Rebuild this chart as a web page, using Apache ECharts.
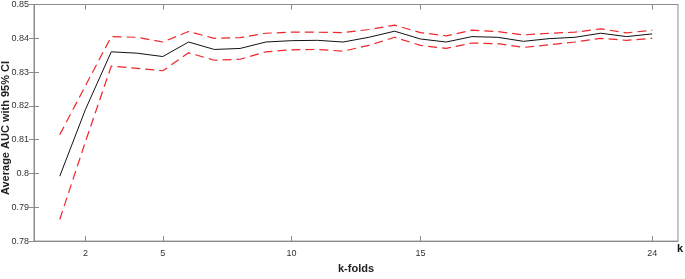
<!DOCTYPE html>
<html>
<head>
<meta charset="utf-8">
<script src="https://cdn.jsdelivr.net/npm/echarts@6/dist/echarts.min.js"></script>
<style>
  html, body { margin: 0; padding: 0; background: #fff; }
  #main { width: 685px; height: 279px; }
</style>
</head>
<body>
<div id="main"></div>
<script>
// k values and AUC
var kValues = [1, 2, 3, 4, 5, 6, 7, 8, 9, 10, 11, 12, 13, 14, 15, 16, 17, 18, 19, 20, 21, 22, 23, 24];
var meanAuc = [0.7992, 0.8190, 0.8360, 0.8356, 0.8346, 0.8389, 0.8367, 0.8370, 0.8389, 0.8393, 0.8394, 0.8389,
  0.8403, 0.8421, 0.8398, 0.8389, 0.8405, 0.8403, 0.8391, 0.8399, 0.8403, 0.8415, 0.8405, 0.8413];
var upperCi = [0.8115, 0.8260, 0.8405, 0.8403, 0.8389, 0.8420, 0.8400, 0.8402, 0.8415, 0.8418, 0.8418, 0.8417,
  0.8426, 0.8439, 0.8417, 0.8407, 0.8424, 0.8420, 0.8410, 0.8415, 0.8418, 0.8428, 0.8416, 0.8424];
var lowerCi = [0.7864, 0.8095, 0.8318, 0.8311, 0.8304, 0.8357, 0.8335, 0.8338, 0.8360, 0.8366, 0.8367, 0.8362,
  0.8379, 0.8403, 0.8379, 0.8370, 0.8386, 0.8384, 0.8373, 0.8381, 0.8389, 0.8400, 0.8394, 0.8400];
var xTicks = [2, 5, 10, 15, 24];

function pairs(ys) {
  var res = [];
  for (var i = 0; i < kValues.length; i++) {
    res.push([kValues[i], ys[i]]);
  }
  return res;
}

var chart = echarts.init(document.getElementById("main"));
var axisColor = "#8c8c8c";
var font = "Liberation Sans, Arial, sans-serif";

var option = {
  animation: false,
  grid: { left: 34, right: 7, top: 4, bottom: 28, show: true, borderColor: axisColor, borderWidth: 1 },
  xAxis: [
    {
      type: "value", min: 0, max: 25,
      name: "k-folds", nameLocation: "middle", nameGap: 20,
      nameTextStyle: { fontFamily: font, fontWeight: "bold", fontSize: 11, color: "#222" },
      axisLine: { show: true, lineStyle: { color: axisColor } },
      axisTick: { show: true, inside: true, length: 5, customValues: xTicks, lineStyle: { color: axisColor } },
      axisLabel: { customValues: xTicks, fontFamily: font, fontSize: 9, color: "#333", margin: 8 },
      splitLine: { show: false }
    },
    {
      type: "value", min: 0, max: 25, position: "top",
      axisLine: { show: true, lineStyle: { color: axisColor } },
      axisTick: { show: true, inside: true, length: 5, customValues: xTicks, lineStyle: { color: axisColor } },
      axisLabel: { show: false },
      splitLine: { show: false }
    }
  ],
  yAxis: [
    {
      type: "value", min: 0.78, max: 0.85, interval: 0.01,
      axisLine: { show: true, lineStyle: { color: axisColor } },
      axisTick: { show: true, inside: true, length: 5, lineStyle: { color: axisColor } },
      axisLabel: {
        fontFamily: font, fontSize: 9, color: "#333", margin: 5,
        formatter: function (v) { return String(parseFloat(v.toFixed(2))); }
      },
      splitLine: { show: false }
    },
    {
      type: "value", min: 0.78, max: 0.85, interval: 0.01, position: "right",
      axisLine: { show: true, lineStyle: { color: axisColor } },
      axisTick: { show: true, inside: true, length: 5, lineStyle: { color: axisColor } },
      axisLabel: { show: false },
      splitLine: { show: false }
    }
  ],
  graphic: [
    {
      type: "text", x: 6, y: 128, rotation: Math.PI / 2,
      style: {
        text: "Average AUC with 95% CI", fontFamily: font, fontWeight: "bold", fontSize: 11,
        fill: "#222", align: "center", verticalAlign: "middle"
      }
    },
    {
      type: "text", left: 677, top: 243,
      style: { text: "k", fontFamily: font, fontWeight: "bold", fontSize: 11, fill: "#111" }
    }
  ],
  series: [
    {
      name: "upper", type: "line", data: pairs(upperCi), showSymbol: false,
      lineStyle: { color: "#f0262b", width: 1.2, type: [9, 5] }
    },
    {
      name: "lower", type: "line", data: pairs(lowerCi), showSymbol: false,
      lineStyle: { color: "#f0262b", width: 1.2, type: [9, 5] }
    },
    {
      name: "mean", type: "line", data: pairs(meanAuc), showSymbol: false,
      lineStyle: { color: "#111", width: 1 }
    }
  ]
};

chart.setOption(option);
</script>
</body>
</html>
